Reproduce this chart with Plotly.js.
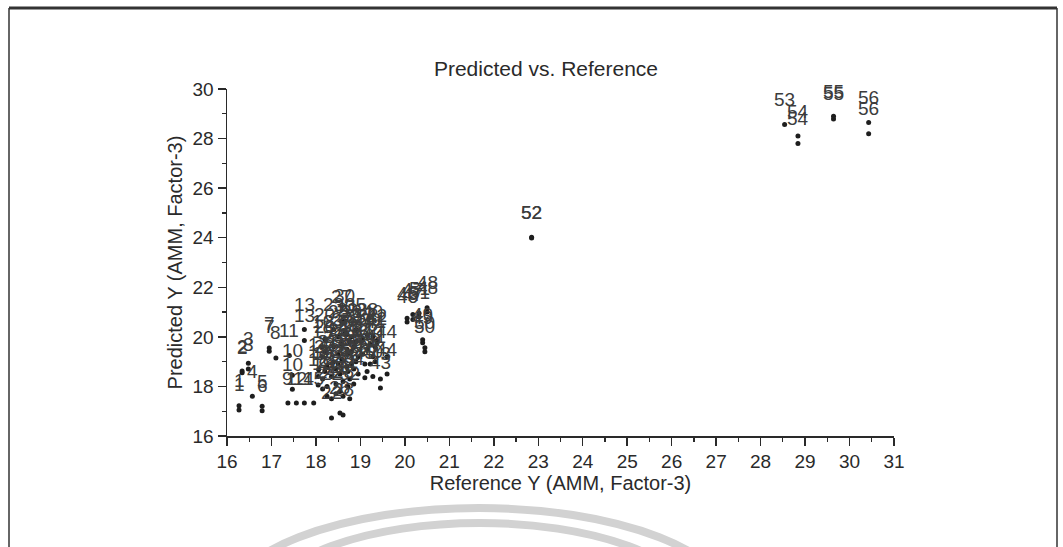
<!DOCTYPE html>
<html>
<head>
<meta charset="utf-8">
<script src="https://cdn.plot.ly/plotly-3.0.1.min.js"></script>
<style>
  html, body { margin: 0; padding: 0; background: #ffffff; }
  #chart { width: 1063px; height: 547px; }
</style>
</head>
<body>
<div id="chart"></div>
<script>
// Sample number, reference value and predicted value for every replicate measurement
const sampleNo = [
  1, 1, 2, 2, 3, 3, 4, 5, 6, 7, 7, 8, 9, 10, 10, 11, 12, 13, 13, 14, 15, 16, 17,
  18, 18, 19, 19, 19, 20, 20, 20, 21, 21, 21, 22, 22, 22, 23, 23, 23, 24, 24, 24,
  25, 25, 25, 26, 26, 26, 27, 27, 27, 28, 28, 28, 29, 29, 29, 30, 30,
  31, 31, 31, 32, 32, 32, 33, 33, 33, 34, 34, 34, 35, 35, 35, 36, 36, 37, 37,
  38, 38, 38, 39, 39, 40, 40, 40, 41, 41, 42, 42, 43, 43, 44, 44, 45, 45,
  46, 46, 47, 47, 48, 48, 49, 49, 50, 50, 51, 51,
  52, 52, 53, 54, 54, 55, 55, 56, 56
];
const referenceY = [
  16.27, 16.27, 16.34, 16.34, 16.48, 16.48, 16.57, 16.79, 16.79, 16.95, 16.95, 17.10, 17.37, 17.47, 17.47, 17.40, 17.56, 17.74, 17.74, 17.74, 17.95, 18.14, 18.06,
  18.05, 18.05, 18.15, 18.15, 18.15, 18.20, 18.20, 18.20, 18.25, 18.25, 18.25, 18.35, 18.35, 18.35, 18.40, 18.40, 18.40, 18.45, 18.45, 18.45,
  18.50, 18.50, 18.50, 18.54, 18.54, 18.54, 18.58, 18.58, 18.58, 18.61, 18.61, 18.61, 18.70, 18.70, 18.70, 18.65, 18.65,
  18.72, 18.72, 18.72, 18.76, 18.76, 18.76, 18.80, 18.80, 18.80, 18.85, 18.85, 18.85, 18.90, 18.90, 18.90, 18.95, 18.95, 19.05, 19.05,
  19.15, 19.15, 19.15, 19.22, 19.22, 19.28, 19.28, 19.28, 19.33, 19.33, 19.37, 19.37, 19.45, 19.45, 19.60, 19.60, 19.10, 19.10,
  20.05, 20.05, 20.18, 20.18, 20.50, 20.50, 20.40, 20.40, 20.45, 20.45, 20.32, 20.32,
  22.85, 22.85, 28.54, 28.84, 28.84, 29.64, 29.64, 30.43, 30.43
];
const predictedY = [
  17.05, 17.22, 18.55, 18.62, 18.94, 18.70, 17.60, 17.20, 17.02, 19.55, 19.42, 19.15, 17.33, 17.89, 18.45, 19.25, 17.33, 20.30, 19.85, 17.33, 17.33, 19.60, 18.67,
  18.06, 18.40, 17.90, 18.30, 19.20, 18.60, 19.40, 19.90, 17.60, 18.00, 18.80, 16.73, 17.50, 18.40, 19.00, 19.60, 20.30, 17.70, 18.10, 18.70,
  18.90, 19.30, 20.00, 16.93, 17.80, 18.50, 19.10, 19.70, 20.60, 16.85, 17.60, 18.20, 18.80, 19.50, 20.10, 20.20, 20.65,
  18.00, 18.60, 19.30, 17.50, 18.30, 19.80, 18.90, 19.40, 20.00, 18.10, 18.70, 19.60, 19.00, 19.80, 20.30, 18.50, 19.20, 19.30, 19.90,
  18.60, 19.50, 20.10, 18.90, 19.70, 18.40, 19.20, 20.00, 19.00, 19.60, 19.75, 19.85, 17.94, 18.30, 18.50, 19.20, 18.35, 18.90,
  20.75, 20.60, 20.90, 20.70, 21.17, 21.00, 19.76, 19.88, 19.40, 19.56, 20.95, 20.80,
  23.99, 24.02, 28.57, 28.10, 27.80, 28.90, 28.79, 28.65, 28.19
];

const xTickValues = [16, 17, 18, 19, 20, 21, 22, 23, 24, 25, 26, 27, 28, 29, 30, 31];
const yTickValues = [16, 18, 20, 22, 24, 26, 28, 30];

const W = 1063, H = 547;
const M = { l: 227, r: 169, t: 89, b: 111 };
const PW = W - M.l - M.r, PH = H - M.t - M.b;
// pixel position on the page -> paper coordinates
const px = v => (v - M.l) / PW;
const py = v => (H - M.b - v) / PH;

const FONT = 'Liberation Sans, Arial, sans-serif';
const INK = '#2a2a2a';

const trace = {
  type: 'scatter',
  mode: 'markers',
  x: referenceY,
  y: predictedY,
  marker: { color: '#1e1e1e', size: 5 },
  hoverinfo: 'x+y',
  cliponaxis: false
};

// sample numbers written just above each point
const labels = sampleNo.map((n, i) => ({
  x: referenceY[i],
  y: predictedY[i],
  xref: 'x',
  yref: 'y',
  text: String(n),
  showarrow: false,
  yshift: 25,
  font: { family: FONT, size: 19, color: '#3c3c3c' }
}));

const frameLine = { type: 'line', xref: 'paper', yref: 'paper', line: { color: '#333333', width: 1.5 } };
const shapes = [
  // faint seal arcs near the bottom of the sheet
  { type: 'circle', xref: 'paper', yref: 'paper', layer: 'below',
    x0: px(224), x1: px(734), y0: py(708), y1: py(508),
    line: { color: '#d2d2d2', width: 8 } },
  { type: 'circle', xref: 'paper', yref: 'paper', layer: 'below',
    x0: px(269), x1: px(691), y0: py(682), y1: py(523),
    line: { color: '#d2d2d2', width: 8 } },
  // page frame
  Object.assign({}, frameLine, { x0: px(9), x1: px(1057), y0: py(8), y1: py(8), line: { color: '#333333', width: 3 } }),
  Object.assign({}, frameLine, { x0: px(9), x1: px(9), y0: py(8), y1: py(547) }),
  Object.assign({}, frameLine, { x0: px(1057), x1: px(1057), y0: py(8), y1: py(547) })
];

const layout = {
  width: W,
  height: H,
  margin: M,
  paper_bgcolor: '#ffffff',
  plot_bgcolor: '#ffffff',
  showlegend: false,
  font: { family: FONT, size: 19, color: INK },
  title: {
    text: 'Predicted vs. Reference',
    font: { family: FONT, size: 21, color: INK },
    xref: 'container', yref: 'container',
    x: 546 / W, y: 1 - 69 / H,
    xanchor: 'center', yanchor: 'middle'
  },
  xaxis: {
    range: [16, 31],
    tickvals: xTickValues,
    ticktext: xTickValues.map(String),
    ticks: 'outside', ticklen: 8, tickwidth: 1.5, tickcolor: INK,
    minor: { dtick: 0.5, tick0: 16, ticks: 'outside', ticklen: 4, tickwidth: 1.2, tickcolor: INK },
    showline: true, linecolor: INK, linewidth: 1.5,
    showgrid: false, zeroline: false,
    tickfont: { family: FONT, size: 19, color: INK },
    title: { text: 'Reference Y (AMM, Factor-3)', font: { family: FONT, size: 20, color: INK }, standoff: 3 },
    automargin: false, fixedrange: true
  },
  yaxis: {
    range: [16, 30],
    tickvals: yTickValues,
    ticktext: yTickValues.map(String),
    ticks: 'outside', ticklen: 8, tickwidth: 1.5, tickcolor: INK,
    minor: { dtick: 1, tick0: 16, ticks: 'outside', ticklen: 4, tickwidth: 1.2, tickcolor: INK },
    showline: true, linecolor: INK, linewidth: 1.5,
    showgrid: false, zeroline: false,
    tickfont: { family: FONT, size: 19, color: INK },
    title: { text: 'Predicted Y (AMM, Factor-3)', font: { family: FONT, size: 20, color: INK }, standoff: 4 },
    automargin: false, fixedrange: true
  },
  annotations: labels,
  shapes: shapes
};

Plotly.newPlot('chart', [trace], layout, { displayModeBar: false, staticPlot: true });
</script>
</body>
</html>
